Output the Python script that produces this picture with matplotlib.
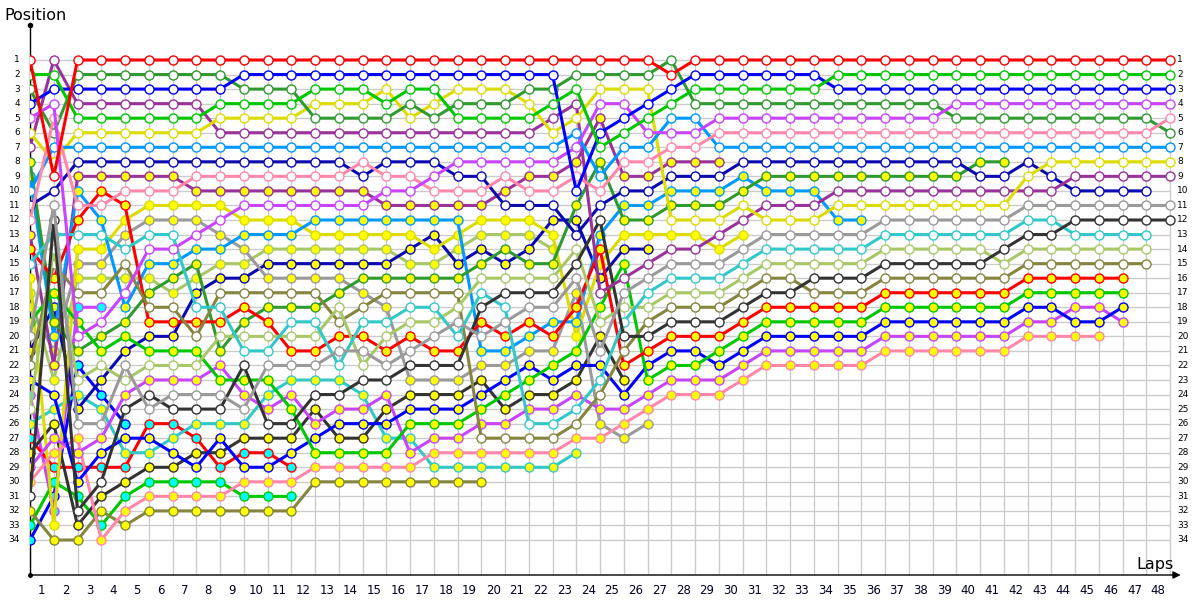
import matplotlib
matplotlib.use("Agg")
import matplotlib.pyplot as plt

# driver codes -> line colour, marker fill
drivers = ["R1", "G1", "B1", "V1", "P1", "D1", "L1", "Y1", "U1", "N1", "A1", "K1", "T1", "E1", "O1",
           "R2", "G2", "B2", "V2", "P2", "D2", "L2", "Y2", "U2", "A2", "N2", "K2", "T2", "E2", "O2",
           "R3", "G3", "V3", "B3"]

line_col = {"R": "#ff0000", "G": "#00c800", "B": "#0000ff", "V": "#c844ff", "P": "#ff88aa",
            "D": "#2f9a2f", "L": "#0099ff", "Y": "#dcdc00", "U": "#993399", "N": "#0a0ab0",
            "A": "#9a9a9a", "K": "#333333", "T": "#33c8c8", "E": "#a8c868", "O": "#858540"}
fill_col = {"1": "white", "2": "#ffff00", "3": "#00ffff"}

# running order, one string per lap (lap 0 = grid), "--" = empty place
running_order = [
    "R1 G1 D1 B1 V1 Y1 U1 D2 L2 L1 N1 P1 U2 R2 T1 Y2 E2 A2 G2 A1 N2 O1 B2 V3 E1 T2 R3 K2 V2 P2 K1 O2 G3 B3",
    "U1 G1 B1 V1 P1 D1 L1 Y1 R1 N1 A1 K1 T1 E1 O1 R2 G2 N2 D2 L2 A2 U2 E2 B2 T2 K2 V2 P2 R3 G3 B3 V3 Y2 O2",
    "R1 D1 B1 U1 G1 Y1 L1 N1 U2 L2 P1 R2 T1 Y2 A2 E2 O1 V3 G2 V1 D2 B3 E1 T2 N2 A1 P2 V2 R3 B2 G3 K1 K2 O2",
    "R1 D1 B1 U1 G1 Y1 L1 N1 U2 R2 P1 L2 T1 Y2 A2 E2 O1 V3 V1 D2 G2 E1 N2 B3 T2 A1 V2 B2 R3 K1 K2 O2 G3 P2",
    "R1 D1 B1 U1 G1 Y1 L1 N1 U2 P1 R2 Y2 A2 T1 O1 E2 V1 L2 D2 G2 N2 A1 E1 V2 K1 B3 B2 T2 R3 K2 G3 P2 O2",
    "R1 D1 B1 U1 G1 Y1 L1 N1 U2 P1 Y2 A2 T1 V1 L2 E2 D2 O1 R2 N2 G2 E1 V2 K1 A1 R3 B2 T2 K2 G3 P2 O2",
    "R1 D1 B1 U1 G1 Y1 L1 N1 U2 P1 Y2 A2 T1 V1 L2 D2 E2 O1 R2 N2 G2 E1 V2 A1 K1 R3 T2 B2 K2 G3 P2 O2",
    "R1 D1 B1 U1 G1 Y1 L1 N1 P1 U2 Y2 A2 V1 L2 D2 E2 N2 T1 R2 O1 G2 E1 V2 A1 K1 T2 R3 K2 B2 G3 P2 O2",
    "R1 D1 B1 G1 Y1 U1 L1 N1 P1 U2 Y2 V1 A2 L2 E2 N2 O1 T1 R2 E1 D2 V2 G2 A1 K1 T2 B2 K2 R3 G3 P2 O2",
    "R1 B1 D1 G1 Y1 U1 L1 N1 P1 U2 V1 Y2 L2 A2 E2 N2 O1 R2 D2 E1 T1 K1 G2 V2 A1 T2 K2 R3 B2 P2 G3 O2",
    "R1 B1 D1 G1 Y1 U1 L1 N1 P1 U2 V1 Y2 L2 E2 N2 A2 O1 D2 R2 E1 T1 A1 G2 T2 V2 K1 K2 R3 B2 P2 G3 O2",
    "R1 B1 D1 G1 Y1 U1 L1 N1 P1 U2 V1 Y2 L2 E2 N2 A2 O1 D2 T1 E1 R2 A1 T2 V2 G2 K1 K2 B2 R3 P2 G3 O2",
    "R1 B1 G1 Y1 D1 U1 L1 N1 P1 U2 V1 L2 Y2 E2 N2 A2 O1 D2 T1 E1 R2 A1 T2 K1 K2 V2 B2 G2 P2 O2",
    "R1 B1 G1 Y1 D1 U1 L1 N1 P1 U2 V1 L2 Y2 E2 N2 A2 D2 E1 O1 R2 A1 T1 T2 K1 V2 B2 K2 G2 P2 O2",
    "R1 B1 G1 Y1 D1 U1 L1 P1 N1 U2 V1 L2 Y2 E2 N2 D2 A2 O1 T1 R2 A1 E1 K1 T2 V2 B2 K2 G2 P2 O2",
    "R1 B1 Y1 G1 D1 U1 L1 N1 P1 V1 U2 L2 Y2 E2 N2 D2 O1 A2 T1 E1 R2 A1 K1 V2 K2 B2 T2 G2 P2 O2",
    "R1 B1 G1 D1 Y1 U1 L1 N1 P1 V1 U2 L2 Y2 N2 E2 D2 O1 T1 E1 R2 A1 K1 A2 K2 B2 G2 T2 V2 P2 O2",
    "R1 B1 G1 Y1 D1 U1 L1 N1 V1 P1 U2 L2 N2 Y2 E2 D2 O1 T1 E1 A1 R2 K1 A2 K2 B2 G2 V2 P2 T2 O2",
    "R1 B1 Y1 D1 G1 U1 L1 V1 N1 P1 U2 L2 Y2 E2 N2 D2 O1 E1 A1 T1 R2 K1 A2 K2 B2 G2 V2 P2 T2 O2",
    "R1 B1 Y1 D1 G1 U1 L1 V1 N1 P1 U2 Y2 E2 N2 D2 E1 T1 K1 R2 A1 L2 A2 K2 B2 G2 V2 O1 P2 T2 O2",
    "R1 B1 Y1 D1 G1 U1 L1 V1 P1 U2 N1 Y2 E2 D2 N2 E1 K1 T1 A1 R2 L2 A2 B2 G2 K2 V2 O1 P2 T2",
    "R1 B1 D1 Y1 G1 U1 L1 V1 U2 P1 N1 Y2 E2 N2 D2 E1 K1 A1 R2 L2 A2 B2 G2 K2 V2 T1 O1 P2 T2",
    "R1 B1 D1 G1 U1 Y1 L1 V1 U2 P1 N1 N2 Y2 E2 D2 E1 K1 A1 L2 R2 A2 G2 B2 K2 V2 T1 O1 P2 T2",
    "R1 D1 G1 U1 Y1 L1 V1 U2 P1 B1 D2 N2 N1 E1 K1 A1 A2 R2 L2 Y2 G2 B2 K2 V2 T1 O1 P2 T2",
    "R1 D1 Y1 V1 U2 B1 G1 D2 L1 P1 N1 K1 L2 R2 Y2 N2 U1 G2 E1 K2 A1 B2 T1 O1 V2 A2 P2",
    "R1 D1 Y1 V1 B1 G1 L1 P1 U2 N1 L2 D2 Y2 N2 G2 U1 A1 E1 T1 K1 O1 R2 K2 B2 V2 P2 A2",
    "R1 D1 Y1 B1 G1 V1 L1 P1 U2 N1 L2 D2 Y2 N2 U1 A1 T1 E1 O1 K1 R2 B2 G2 V2 P2 A2",
    "D1 R1 B1 G1 L1 V1 P1 U2 N1 L2 D2 Y1 Y2 U1 A1 T1 E1 O1 K1 R2 B2 G2 V2 P2",
    "R1 B1 G1 D1 L1 V1 P1 U2 N1 L2 D2 Y1 Y2 U1 A1 T1 E1 O1 K1 R2 B2 G2 V2 P2",
    "R1 B1 G1 D1 V1 P1 L1 U2 N1 L2 D2 Y1 U1 Y2 A1 T1 E1 O1 K1 R2 G2 B2 V2 P2",
    "R1 B1 G1 D1 V1 P1 L1 N1 L2 D2 Y1 U1 Y2 A1 T1 E1 O1 K1 R2 G2 B2 V2 P2",
    "R1 B1 G1 D1 V1 P1 L1 N1 D2 L2 U1 Y1 A1 T1 E1 O1 K1 R2 G2 B2 V2 P2",
    "R1 B1 G1 D1 V1 P1 L1 N1 D2 L2 U1 Y1 A1 T1 E1 O1 K1 R2 G2 B2 V2 P2",
    "R1 B1 G1 D1 V1 P1 L1 N1 D2 L2 U1 Y1 A1 T1 E1 K1 O1 R2 G2 B2 V2 P2",
    "R1 G1 B1 D1 V1 P1 L1 N1 D2 U1 Y1 L2 A1 T1 E1 K1 O1 R2 G2 B2 V2 P2",
    "R1 G1 B1 D1 V1 P1 L1 N1 D2 U1 Y1 L2 A1 T1 E1 K1 O1 R2 G2 B2 V2 P2",
    "R1 G1 B1 D1 V1 P1 L1 N1 D2 U1 Y1 A1 T1 E1 K1 O1 R2 G2 B2 V2 P2",
    "R1 G1 B1 D1 V1 P1 L1 N1 D2 U1 Y1 A1 T1 E1 K1 O1 R2 G2 B2 V2 P2",
    "R1 G1 B1 D1 V1 P1 L1 N1 D2 U1 Y1 A1 T1 E1 K1 O1 R2 G2 B2 V2 P2",
    "R1 G1 B1 V1 D1 P1 L1 N1 D2 U1 Y1 A1 T1 E1 K1 O1 R2 G2 B2 V2 P2",
    "R1 G1 B1 V1 D1 P1 L1 D2 N1 U1 Y1 A1 T1 E1 K1 O1 R2 G2 B2 V2 P2",
    "R1 G1 B1 V1 D1 P1 L1 D2 N1 U1 Y1 A1 T1 K1 E1 O1 R2 G2 B2 V2 P2",
    "R1 G1 B1 V1 D1 P1 L1 N1 Y1 U1 A1 T1 K1 E1 O1 R2 G2 B2 V2 P2",
    "R1 G1 B1 V1 D1 P1 L1 Y1 N1 U1 A1 T1 K1 E1 O1 R2 G2 B2 V2 P2",
    "R1 G1 B1 V1 D1 P1 L1 Y1 U1 N1 A1 K1 T1 E1 O1 R2 G2 V2 B2 P2",
    "R1 G1 B1 V1 D1 P1 L1 Y1 U1 N1 A1 K1 T1 E1 O1 R2 G2 V2 B2 P2",
    "R1 G1 B1 V1 D1 P1 L1 Y1 U1 N1 A1 K1 T1 E1 O1 R2 G2 B2 V2",
    "R1 G1 B1 V1 D1 P1 L1 Y1 U1 N1 A1 K1 T1 E1 O1",
    "R1 G1 B1 V1 P1 D1 L1 Y1 U1 -- A1 K1",
]

n_pos = 34
n_laps = len(running_order) - 1

# pixel layout: lap 0 at x=30, lap 48 at x=1170; P1 at y=60, P34 at y=540
px_lap = 23.75
px_pos = 480 / 33
fig = plt.figure(figsize=(12, 6), dpi=100)
ax = fig.add_axes([30 / 1200, 25 / 600, 1152 / 1200, 550 / 600])
x_max = 1152 / px_lap
y_bot = 34 + 35 / px_pos
y_top = 1 - 35 / px_pos
ax.set_xlim(0, x_max)
ax.set_ylim(y_bot, y_top)
ax.axis("off")

# grid
ax.vlines(range(n_laps + 1), 0.75, y_bot, color="#cccccc", lw=1, zorder=1)
ax.hlines(range(1, n_pos + 1), 0, n_laps, color="#cccccc", lw=1, zorder=1)

# axes lines
ax.plot([0, 0], [y_bot, y_top], color="black", lw=1, zorder=5, clip_on=False)
ax.plot([0], [y_top], "o", color="black", ms=3, zorder=5, clip_on=False)
ax.plot([0], [y_bot], "o", color="black", ms=2.5, zorder=5, clip_on=False)
ax.annotate("", xy=(48.45, y_bot), xytext=(0, y_bot),
            arrowprops=dict(arrowstyle="-|>", color="black", lw=1, mutation_scale=11,
                            shrinkA=0, shrinkB=0), annotation_clip=False, zorder=5)

# one line per driver
for k, d in enumerate(reversed(drivers)):
    laps = []
    pos = []
    for lap, order in enumerate(running_order):
        codes = order.split()
        if d in codes:
            laps.append(lap)
            pos.append(codes.index(d) + 1)
    ax.plot(laps, pos, color=line_col[d[0]], lw=2.2, marker="o", ms=6.5,
            mfc=fill_col[d[1]], mec=line_col[d[0]], mew=1.0, zorder=10 + k,
            solid_joinstyle="round")

# tick labels
for p in range(1, n_pos + 1):
    ax.text(-0.42, p, str(p), ha="right", va="center", fontsize=6.5, clip_on=False)
    ax.text(48.3, p, str(p), ha="left", va="center", fontsize=6.5, clip_on=False)
for lap in range(1, n_laps + 1):
    ax.text(lap - 0.5, 34 + 50 / px_pos, str(lap), ha="center", va="center",
            fontsize=8.5, color="#000022", clip_on=False)

fig.text(4 / 1200, 1 - 16 / 600, "Position", ha="left", va="center", fontsize=11.5)
fig.text(1174 / 1200, 1 - 564 / 600, "Laps", ha="right", va="center", fontsize=11.5)

fig.savefig("out.png", dpi=100)
